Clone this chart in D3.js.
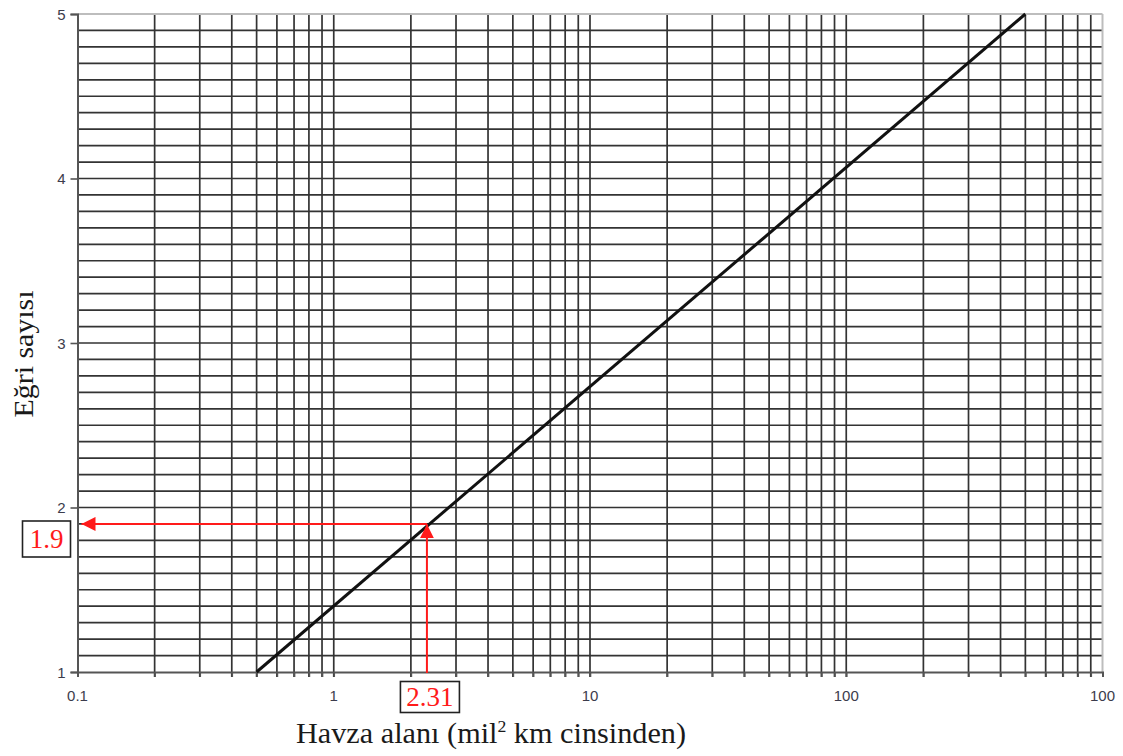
<!DOCTYPE html>
<html>
<head>
<meta charset="utf-8">
<script src="https://cdn.jsdelivr.net/npm/d3@7"></script>
<style>
  html, body { margin: 0; padding: 0; background: #fff; }
  svg { display: block; }
</style>
</head>
<body>
<svg id="chart" width="1123" height="756"></svg>
<script>
// Axis ranges and labels
const xDomain = [0.1, 1000];
const yDomain = [1, 5];
const xTickValues = [0.1, 1, 10, 100, 1000];
const xTickLabels = ["0.1", "1", "10", "100", "100"];
const yTickValues = [1, 2, 3, 4, 5];
const yTickLabels = ["1", "2", "3", "4", "5"];

// Design line: basin area vs. curve number
const curveArea = [0.5, 500];
const curveCount = [1, 5];

// Worked example
const readArea = 2.31;
const readCount = 1.9;

const svg = d3.select("#chart");
const margin = { left: 77.5, right: 20.5, top: 14, bottom: 84 };
const W = 1123, H = 756;

const x = d3.scaleLog().domain(xDomain).range([margin.left, W - margin.right]);
const y = d3.scaleLinear().domain(yDomain).range([H - margin.bottom, margin.top]);

const gridColor = "#333";

// Vertical grid: every 1..9 multiple in each decade
const xGrid = [];
for (let d = 0.1; d < 1000; d *= 10) {
  for (let m = 1; m <= 9; m++) xGrid.push(+(d * m).toPrecision(3));
}
xGrid.push(1000);

// Horizontal grid every 0.1
const yGrid = d3.range(10, 51).map(v => v / 10);

const grid = svg.append("g");
grid.selectAll("line.v").data(xGrid.filter(v => v > 0.1 && v < 1000)).join("line")
  .attr("class", "v")
  .attr("x1", d => x(d)).attr("x2", d => x(d))
  .attr("y1", y(5)).attr("y2", y(1) + 5)
  .attr("stroke", gridColor).attr("stroke-width", 1.7);

grid.selectAll("line.h").data(yGrid.filter(v => v > 1 && v < 5)).join("line")
  .attr("class", "h")
  .attr("x1", x(0.1)).attr("x2", x(1000))
  .attr("y1", d => y(d)).attr("y2", d => y(d))
  .attr("stroke", gridColor).attr("stroke-width", 1.7);

// Frame: top and right light, left and bottom dark axes
svg.append("line").attr("x1", x(0.1)).attr("x2", x(1000)).attr("y1", y(5)).attr("y2", y(5))
  .attr("stroke", "#bdbdbd").attr("stroke-width", 2);
svg.append("line").attr("x1", x(1000)).attr("x2", x(1000)).attr("y1", y(5)).attr("y2", y(1))
  .attr("stroke", "#bdbdbd").attr("stroke-width", 2);

// X axis with ticks at every grid position
const xAxis = d3.axisBottom(x).tickValues(xGrid).tickSize(5).tickFormat(() => "");
const gx = svg.append("g").attr("transform", `translate(0,${y(1)})`).call(xAxis);
gx.select(".domain").attr("stroke", "#555").attr("stroke-width", 2);
gx.selectAll(".tick line").attr("stroke", "#555").attr("stroke-width", 1.6);

svg.append("g").selectAll("text").data(xTickValues).join("text")
  .attr("x", d => x(d)).attr("y", y(1) + 29)
  .attr("text-anchor", "middle")
  .attr("font-family", "Liberation Sans, Arial, sans-serif")
  .attr("font-size", 15).attr("fill", "#3c3c4c")
  .text((d, i) => xTickLabels[i]);

// Y axis
const yAxis = d3.axisLeft(y).tickValues(yTickValues).tickSize(7).tickFormat(() => "");
const gy = svg.append("g").attr("transform", `translate(${x(0.1)},0)`).call(yAxis);
gy.select(".domain").attr("stroke", "#555").attr("stroke-width", 2);
gy.selectAll(".tick line").attr("stroke", "#555").attr("stroke-width", 1.6);

svg.append("g").selectAll("text").data(yTickValues).join("text")
  .attr("x", x(0.1) - 12).attr("y", d => y(d) + 5.5)
  .attr("text-anchor", "end")
  .attr("font-family", "Liberation Sans, Arial, sans-serif")
  .attr("font-size", 15).attr("fill", "#3c3c4c")
  .text((d, i) => yTickLabels[i]);

// Design line
const line = d3.line().x(d => x(d[0])).y(d => y(d[1]));
svg.append("path")
  .datum(curveArea.map((a, i) => [a, curveCount[i]]))
  .attr("d", line)
  .attr("fill", "none").attr("stroke", "#111").attr("stroke-width", 3);

// Red reading arrows
const red = "#ff1a1a";
const defs = svg.append("defs");
defs.append("marker").attr("id", "arrowRed")
  .attr("viewBox", "0 0 10 10").attr("refX", 10).attr("refY", 5)
  .attr("markerWidth", 7).attr("markerHeight", 7).attr("markerUnits", "strokeWidth")
  .attr("orient", "auto")
  .append("path").attr("d", "M0,0 L10,5 L0,10 Z").attr("fill", red);

const slope = (curveCount[1] - curveCount[0]) / Math.log10(curveArea[1] / curveArea[0]);
const countOnLine = curveCount[0] + slope * Math.log10(readArea / curveArea[0]);

svg.append("line")
  .attr("x1", x(readArea)).attr("x2", x(readArea))
  .attr("y1", y(1) + 1).attr("y2", y(countOnLine) - 2)
  .attr("stroke", red).attr("stroke-width", 2)
  .attr("marker-end", "url(#arrowRed)");

svg.append("line")
  .attr("x1", x(readArea)).attr("x2", x(0.1) + 4)
  .attr("y1", y(readCount)).attr("y2", y(readCount))
  .attr("stroke", red).attr("stroke-width", 2)
  .attr("marker-end", "url(#arrowRed)");

// Boxed value labels
function boxedLabel(cx, cy, w, h, txt) {
  const g = svg.append("g");
  g.append("rect").attr("x", cx - w / 2).attr("y", cy - h / 2)
    .attr("width", w).attr("height", h)
    .attr("fill", "#fff").attr("stroke", "#222").attr("stroke-width", 1.6);
  g.append("text").attr("x", cx).attr("y", cy + 9)
    .attr("text-anchor", "middle")
    .attr("font-family", "Liberation Serif, Times New Roman, serif")
    .attr("font-size", 27).attr("fill", red)
    .text(txt);
}
boxedLabel(46.5, 539, 48, 36, String(readCount));
boxedLabel(x(readArea) + 3, 697, 59, 31, String(readArea));

// Axis titles
const xt = svg.append("text")
  .attr("x", 491).attr("y", 743)
  .attr("text-anchor", "middle")
  .attr("textLength", 390).attr("lengthAdjust", "spacingAndGlyphs")
  .attr("font-family", "Liberation Serif, Times New Roman, serif")
  .attr("font-size", 29).attr("fill", "#1a1a1a");
xt.append("tspan").text("Havza alanı (mil");
xt.append("tspan").attr("font-size", 17).attr("dy", -11).text("2");
xt.append("tspan").attr("dy", 11).text(" km cinsinden)");

svg.append("text")
  .attr("transform", "translate(33,354) rotate(-90)")
  .attr("text-anchor", "middle")
  .attr("textLength", 127).attr("lengthAdjust", "spacingAndGlyphs")
  .attr("font-family", "Liberation Serif, Times New Roman, serif")
  .attr("font-size", 27).attr("fill", "#1a1a1a")
  .text("Eğri sayısı");
</script>
</body>
</html>
